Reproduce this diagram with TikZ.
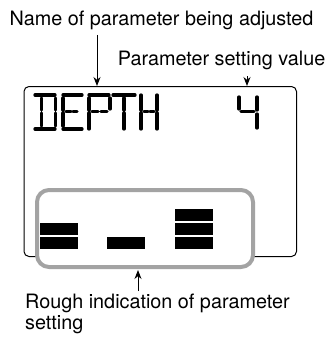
\documentclass[tikz,border=0pt]{standalone}
\usepackage{fontspec}
\setmainfont{TeX Gyre Heros}
\usetikzlibrary{arrows.meta}
\definecolor{boxgray}{HTML}{A3A3A3}
\begin{document}
\begin{tikzpicture}[x=1pt,y=-1pt,
  lbl/.style={anchor=base west,inner sep=0pt,font=\fontsize{19.8}{22}\selectfont},
  arr/.style={-{Stealth[length=9pt,width=7pt]},line width=1pt},
  seg/.style={line width=3.3pt,line cap=round},
  bar/.style={fill=black,draw=none,minimum width=38pt,minimum height=12pt,inner sep=0pt,anchor=north west}]
\useasboundingbox (0,0) rectangle (336,337);
% labels
\node[lbl] (lname) at (9.5,26) {Name of parameter being adjusted};
\node[lbl,anchor=base east] (lvalue) at (325.5,65) {Parameter setting value};
\node[lbl] (lrough) at (25,308) {Rough indication of parameter};
\node[lbl] (lrough2) at (25,329) {setting};
% display
\node[draw,line width=1pt,rounded corners=5pt,minimum width=272.5pt,minimum height=170pt,anchor=north west,inner sep=0pt] (disp) at (23.5,86) {};
% gray frame
\node[draw=boxgray,line width=4pt,fill=white,rounded corners=12pt,minimum width=216pt,minimum height=77pt,anchor=north west,inner sep=0pt] (grp) at (35,188) {};
% bars
\node[bar] (b11) at (40,223) {};
\node[bar] (b12) at (40,237) {};
\node[bar] (b21) at (107,237) {};
\node[bar] (b31) at (175,209) {};
\node[bar] (b32) at (175,223) {};
\node[bar] (b33) at (175,237) {};
% arrows
\coordinate (a1s) at (97,35);
\coordinate (a2s) at (247,76);
\coordinate (a3s) at (138,291);
\coordinate (a3e) at (138,270);
\draw[arr] (a1s) -- (a1s |- disp.north);
\draw[arr] (a2s) -- (a2s |- disp.north);
\draw[arr] (a3s) -- (a3e);
% LCD text DEPTH
% D
\draw[seg] (35,95) -- (55,95);
\draw[seg] (35,129) -- (55,129);
\draw[seg] (41.5,98) -- (41.5,110) (41.5,113) -- (41.5,126);
\draw[seg] (55.5,98) -- (55.5,110) (55.5,113) -- (55.5,126);
% E
\draw[seg] (63,95) -- (82,95);
\draw[seg] (63,129) -- (82,129);
\draw[seg] (63,98) -- (63,110) (63,113) -- (63,126);
\draw[seg] (66,111.5) -- (71,111.5) (73,111.5) -- (77,111.5);
% P
\draw[seg] (89,95) -- (109,95);
\draw[seg] (89,98) -- (89,110) (89,113) -- (89,129);
\draw[seg] (110,98) -- (110,109);
\draw[seg] (92,111.5) -- (98,111.5) (101,111.5) -- (107,111.5);
% T
\draw[seg] (113,95) -- (135,95);
\draw[seg] (124,98) -- (124,110) (124,113) -- (124,129);
% H
\draw[seg] (141,95) -- (141,110) (141,113) -- (141,129);
\draw[seg] (157,95) -- (157,110) (157,113) -- (157,129);
\draw[seg] (144,111.5) -- (148,111.5) (150,111.5) -- (154,111.5);
% 4
\draw[seg] (239,97) -- (239,109);
\draw[seg] (257,97) -- (257,110) (257,114) -- (257,128);
\draw[seg] (241,111.5) -- (254,111.5);
\end{tikzpicture}
\end{document}
